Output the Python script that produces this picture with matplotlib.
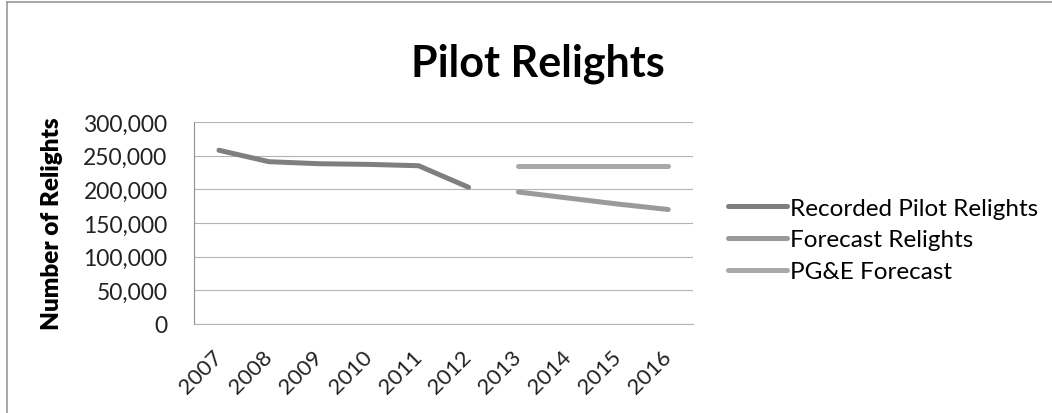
import numpy as np
import matplotlib.pyplot as plt
import matplotlib.transforms as mtransforms
from matplotlib.ticker import FuncFormatter

plt.rcParams['font.family'] = ['Lato', 'DejaVu Sans']

# Data
years = ['2007', '2008', '2009', '2010', '2011', '2012', '2013', '2014', '2015', '2016']
recorded = [258000, 241000, 238000, 237000, 235000, 203000, np.nan, np.nan, np.nan, np.nan]
forecast = [np.nan, np.nan, np.nan, np.nan, np.nan, np.nan, 196000, 187000, 178000, 170000]
pge_forecast = [np.nan, np.nan, np.nan, np.nan, np.nan, np.nan, 234000, 234000, 234000, 234000]

fig = plt.figure(figsize=(10.52, 4.14), dpi=100)
ax = fig.add_axes([0.1844, 0.215, 0.4745, 0.488])

x = np.arange(len(years))
ax.plot(x, recorded, color='#7f7f7f', lw=3.6, solid_capstyle='round', label='Recorded Pilot Relights')
ax.plot(x, forecast, color='#9a9a9a', lw=3.6, solid_capstyle='round', label='Forecast Relights')
ax.plot(x, pge_forecast, color='#a8a8a8', lw=3.6, solid_capstyle='round', label='PG&E Forecast')

ax.set_xlim(-0.5, len(years) - 0.5)
ax.set_ylim(0, 300000)
ax.set_yticks(range(0, 300001, 50000))
ax.yaxis.set_major_formatter(FuncFormatter(lambda v, p: f'{int(v):,}'))
ax.set_xticks(x)
ax.set_xticklabels(years, rotation=45, ha='right', rotation_mode='anchor')
ax.tick_params(axis='both', length=0, labelsize=16.5, colors='#222222')
ax.tick_params(axis='y', pad=19)
ax.tick_params(axis='x', pad=16, labelsize=16)
# nudge the slanted year labels a little to the left, like the original
shift = mtransforms.ScaledTranslation(-7 / 100, 0, fig.dpi_scale_trans)
for lab in ax.get_xticklabels():
    lab.set_transform(lab.get_transform() + shift)

ax.grid(axis='y', color='#b4b4b4', lw=0.8)
ax.set_axisbelow(True)
for s in ['top', 'right']:
    ax.spines[s].set_visible(False)
ax.spines['left'].set_color('#909090')
ax.spines['bottom'].set_color('#b4b4b4')
ax.spines['left'].set_linewidth(0.8)
ax.spines['bottom'].set_linewidth(0.8)

ax.set_ylabel('Number of Relights', fontsize=17.5, fontweight='heavy')
ax.yaxis.set_label_coords(-0.262, 0.5)

fig.text(0.511, 0.845, 'Pilot Relights', fontsize=31, fontweight='bold', ha='center', va='center')

fig.legend(loc='center left', bbox_to_anchor=(0.671, 0.418), frameon=False, fontsize=17.5,
           handlelength=2.45, handletextpad=0.12, labelspacing=0.45)

# chart border (left and top only visible)
fig.add_artist(plt.Line2D([7 / 1052, 7 / 1052], [0, 1 - 3 / 414], color='#999999', lw=1.2))
fig.add_artist(plt.Line2D([7 / 1052, 1], [1 - 3 / 414, 1 - 3 / 414], color='#999999', lw=1.2))

fig.savefig('out.png', dpi=100)
